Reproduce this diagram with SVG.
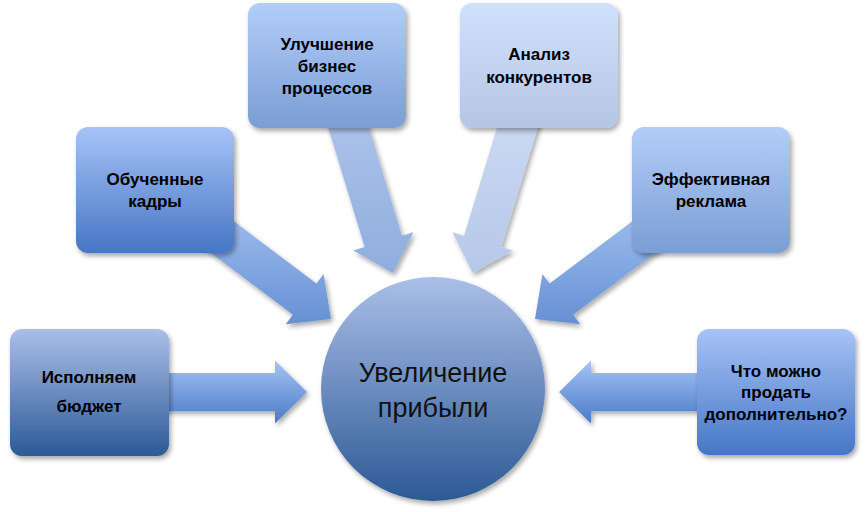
<svg xmlns="http://www.w3.org/2000/svg" width="866" height="512" viewBox="0 0 866 512">
<defs>
<linearGradient id="gDark" x1="0" y1="0" x2="0" y2="1"><stop offset="0" stop-color="#aabfe8"/><stop offset="1" stop-color="#2c5995"/></linearGradient>
<linearGradient id="gMid" x1="0" y1="0" x2="0" y2="1"><stop offset="0" stop-color="#a6c3f6"/><stop offset="1" stop-color="#4676c5"/></linearGradient>
<linearGradient id="gSoft" x1="0" y1="0" x2="0" y2="1"><stop offset="0" stop-color="#b2cdf8"/><stop offset="1" stop-color="#7b9dd5"/></linearGradient>
<linearGradient id="gPale" x1="0" y1="0" x2="0" y2="1"><stop offset="0" stop-color="#d0e1fc"/><stop offset="1" stop-color="#b5c5e4"/></linearGradient>
<linearGradient id="aH" x1="0" y1="0" x2="0" y2="1"><stop offset="0" stop-color="#a6c4f6"/><stop offset="1" stop-color="#4a7ac6"/></linearGradient>
<linearGradient id="aD" x1="0" y1="0" x2="0" y2="1"><stop offset="0" stop-color="#acc8f6"/><stop offset="1" stop-color="#6690d3"/></linearGradient>
<linearGradient id="aV" x1="0" y1="0" x2="0" y2="1"><stop offset="0" stop-color="#b4c9ee"/><stop offset="1" stop-color="#8faddd"/></linearGradient>
<linearGradient id="aP" x1="0" y1="0" x2="0" y2="1"><stop offset="0" stop-color="#d0def6"/><stop offset="1" stop-color="#b6c8e8"/></linearGradient>
<filter id="sh" x="-20%" y="-20%" width="140%" height="140%">
<feGaussianBlur in="SourceAlpha" stdDeviation="2.5"/>
<feOffset dx="2" dy="3" result="b"/>
<feComponentTransfer><feFuncA type="linear" slope="0.35"/></feComponentTransfer>
<feMerge><feMergeNode/><feMergeNode in="SourceGraphic"/></feMerge>
</filter>
</defs>
<style>
.lbl{font-family:"Liberation Sans",Arial,sans-serif;font-weight:bold;font-size:17px;fill:#000;text-anchor:middle}
.ctr{font-family:"Liberation Sans",Arial,sans-serif;font-size:27px;fill:#111;text-anchor:middle}
</style>
<g id="connectors" filter="url(#sh)">
<polygon fill="url(#aH)" points="150,373 275,373 275,360.5 307,392 275,423.5 275,411 150,411"/>
<polygon fill="url(#aD)" points="183,183.1 316.4,283.6 323.6,274 331,319 285.7,324.3 292.9,314.7 159.5,214.2"/>
<polygon fill="url(#aV)" points="353.2,76 402,235.7 413.5,232.2 393,273 353.2,250.6 364.7,247.1 315.9,87.4"/>
<polygon fill="url(#aP)" points="512.8,76 464,235.7 452.5,232.2 473,273 512.8,250.6 501.3,247.1 550.1,87.4"/>
<polygon fill="url(#aD)" points="683,183.1 549.6,283.6 542.4,274 535,319 580.3,324.3 573.1,314.7 706.5,214.2"/>
<polygon fill="url(#aH)" points="716,373 591,373 591,360.5 559,392 591,423.5 591,411 716,411"/>
</g>
<g id="center">
<circle cx="433" cy="389" r="112" fill="url(#gDark)" filter="url(#sh)"/>
<text class="ctr" x="433" y="382">Увеличение</text>
<text class="ctr" x="433" y="417">прибыли</text>
</g>
<g id="n1">
<rect x="10" y="329" width="159" height="127" rx="12" fill="url(#gDark)" filter="url(#sh)"/>
<text class="lbl" x="89" y="383">Исполняем</text>
<text class="lbl" x="89" y="412">бюджет</text>
</g>
<g id="n2">
<rect x="76" y="127" width="158" height="126" rx="12" fill="url(#gMid)" filter="url(#sh)"/>
<text class="lbl" x="155" y="185">Обученные</text>
<text class="lbl" x="155" y="207">кадры</text>
</g>
<g id="n3">
<rect x="248" y="3" width="158" height="125" rx="12" fill="url(#gSoft)" filter="url(#sh)"/>
<text class="lbl" x="327" y="50">Улучшение</text>
<text class="lbl" x="327" y="72">бизнес</text>
<text class="lbl" x="327" y="94">процессов</text>
</g>
<g id="n4">
<rect x="460" y="3" width="158" height="125" rx="12" fill="url(#gPale)" filter="url(#sh)"/>
<text class="lbl" x="539" y="60">Анализ</text>
<text class="lbl" x="539" y="83">конкурентов</text>
</g>
<g id="n5">
<rect x="632" y="127" width="158" height="126" rx="12" fill="url(#gSoft)" filter="url(#sh)"/>
<text class="lbl" x="711" y="185">Эффективная</text>
<text class="lbl" x="711" y="207">реклама</text>
</g>
<g id="n6">
<rect x="697" y="329" width="158" height="126" rx="12" fill="url(#gMid)" filter="url(#sh)"/>
<text class="lbl" x="776" y="377">Что можно</text>
<text class="lbl" x="776" y="398">продать</text>
<text class="lbl" x="776" y="420">дополнительно?</text>
</g>
</svg>
